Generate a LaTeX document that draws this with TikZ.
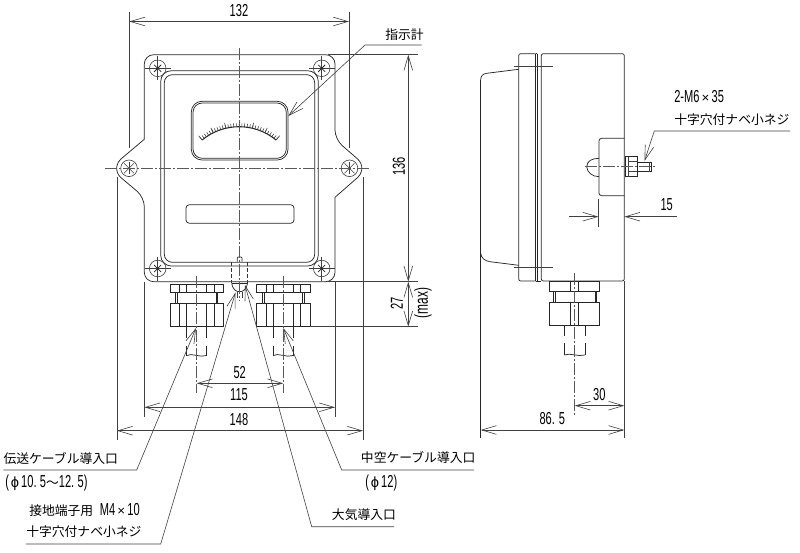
\documentclass[tikz,border=0pt]{standalone}
\usepackage{fontspec}
\usetikzlibrary{arrows.meta}
\newfontfamily\cjk{Noto Sans CJK JP}
\newfontfamily\narrowfont[FakeStretch=0.64]{Liberation Sans}
\newfontfamily\plainfont{Liberation Sans}
\newcommand{\nar}[1]{{\narrowfont\fontsize{13}{14}\selectfont #1}}
\newcommand{\tms}{{\plainfont\fontsize{10}{12}\selectfont\texttimes}}
\newcommand{\dia}{{\plainfont\fontsize{11}{12}\selectfont ϕ}}
\tikzset{
  outline/.style={line width=0.55pt,color=black!85},
  thinline/.style={line width=0.45pt,color=black!75},
  centerline/.style={line width=0.4pt,color=black!65,dash pattern={on 9pt off 1.5pt on 1.5pt off 1.5pt}},
  hidden/.style={line width=0.45pt,color=black!80,dash pattern={on 3pt off 1.5pt}},
  dimline/.style={thinline,{Straight Barb[length=11pt,width=6.5pt]}-{Straight Barb[length=11pt,width=6.5pt]}},
  leader/.style={thinline,-{Straight Barb[length=11pt,width=6.5pt]}},
  numlabel/.style={font=\narrowfont\fontsize{13}{14}\selectfont,inner sep=0pt},
  jplabel/.style={font=\cjk\fontsize{9.6}{12}\selectfont,inner sep=0pt,anchor=west},
}
\begin{document}
\begin{tikzpicture}[x=0.75pt,y=0.75pt,yscale=-1,xscale=1]
\useasboundingbox (0,0) rectangle (800,553);

%Case with ears
\draw [outline] (144.3,139.3) [rounded corners=7pt] -- (144.3,54.7) -- (335,54.7) -- (335,139.3) [sharp corners] -- (357.5,158.9) arc [start angle=-49.6,end angle=49.6,radius=12.3] -- (335,197.3) [rounded corners=7pt] -- (335,281.7) -- (144.3,281.7) -- (144.3,197.3) [sharp corners] -- (121,177.7) arc [start angle=130.4,end angle=229.6,radius=12.3] -- cycle;
%Cover
\draw [outline,rounded corners=8pt] (160.7,70.7) rectangle (318.3,266);
\draw [outline,rounded corners=6pt] (164.3,74.7) rectangle (314.7,262.3);
%Window
\draw [outline,rounded corners=8pt] (191.3,101.3) rectangle (288,160);
\draw [outline,rounded corners=7pt] (193,103) rectangle (286.3,158.3);
\draw [outline,rounded corners=2.5pt] (186,204.7) rectangle (294,223.3);
%Scale
\draw [outline,line width=0.8pt] (239.1,184.7) ++(-129.6:58) arc [start angle=-129.6,end angle=-50.4,radius=58];
\foreach \a in {0,...,30} \draw [thinline] (239.1,184.7) ++({-129.6+2.64*\a}:58) -- ++({-129.6+2.64*\a}:3.5);
\foreach \a in {0,...,6} \draw [thinline] (239.1,184.7) ++({-129.6+13.2*\a}:58) -- ++({-129.6+13.2*\a}:5.5);

%Corner screws
\foreach \sx/\sy in {157.7/68.3,321.7/68.3,157.7/268.5,321.7/268.5} {
  \draw [thinline] (\sx,\sy) circle [radius=8.3];
  \draw [thinline] (\sx-13,\sy) -- (\sx+13,\sy);
  \draw [thinline] (\sx,\sy-12) -- (\sx,\sy+12);
  \draw [outline] (\sx-3.5,\sy-3.5) -- (\sx+3.5,\sy+3.5);
  \draw [outline] (\sx-3.5,\sy+3.5) -- (\sx+3.5,\sy-3.5);
}
%Ear screws
\foreach \sx in {129,349.5} {
  \draw [thinline] (\sx,168.3) circle [radius=8.3];
  \draw [thinline] (\sx-5,163.3) -- (\sx+5,173.3);
  \draw [thinline] (\sx-5,173.3) -- (\sx+5,163.3);
  \draw [thinline] (\sx,162.3) -- (\sx,174.3);
}

%Earth screw
\draw [outline] (237.3,261.7) -- (237.3,258) .. controls (237.3,256.5) and (242,256.5) .. (242,258) -- (242,261.7);
\draw [hidden] (231.7,262) -- (231.7,283);
\draw [hidden] (247.5,262) -- (247.5,283);
\draw [outline,line width=0.9pt] (231.7,283.5) -- (247.5,283.5);
\draw [outline] (231.7,283.5) .. controls (232.5,289) and (236,291.8) .. (239.6,291.8) .. controls (243,291.8) and (246.8,289) .. (247.5,283.5);
\draw [thinline] (236.8,292) -- (236.8,298);
\draw [thinline] (242.6,292) -- (242.6,298);

%Cable glands
\foreach \gx in {196.7,283.3} {
\begin{scope}[shift={(\gx,0)}]
\draw [outline] (-26.6,284) rectangle (26.6,292.7);
\draw [outline] (-26.6,303.3) rectangle (26.6,326.3);
\foreach \hx in {-17.3,-10,10,17.3} \draw [outline] (\hx,284) -- (\hx,292.7) (\hx,303.3) -- (\hx,326.3);
\draw [outline] (-21,292.7) -- (-21,303.3) (-19.4,292.7) -- (-19.4,303.3) (19.4,292.7) -- (19.4,303.3) (21,292.7) -- (21,303.3);
\draw [outline] (-10,326.3) -- (-10,338) (-10,346) -- (-10,355.5) (10,326.3) -- (10,338) (10,346) -- (10,355.5);
\draw [outline] (-10,355.5) .. controls (-5,352.5) and (3,358) .. (10,355.5);
\end{scope}
}

%Side view body
\draw [outline] (480.7,80) .. controls (480.7,76) and (482.5,74) .. (486.7,73.3) -- (518.7,69.3);
\draw [outline] (480.7,80) -- (480.7,438);
\draw [outline] (480.7,253.3) .. controls (481,258) and (485,261) .. (490,261.7) -- (518.7,265.3);
\draw [outline,rounded corners=1.5pt] (535.7,53.7) -- (518.7,53.7) -- (518.7,281) -- (535.7,281);
\draw [outline] (535.7,53.7) -- (535.7,281) (537.3,53.7) -- (537.3,281);
\draw [outline,rounded corners=1.5pt] (541.3,281) -- (541.3,53.7) -- (624.3,53.7) -- (624.3,281) -- cycle;
\draw [outline] (535.7,281) -- (541.3,281) (535.7,53.7) -- (537.3,53.7);
\draw [thinline] (514.3,66.7) -- (552.7,66.7);
\draw [thinline] (514.3,267) -- (552.7,267);
%Side view screw
\draw [outline,rounded corners=2pt] (624.3,138.3) -- (599,138.3) -- (599,195.7) -- (624.3,195.7);
\draw [outline] (599,158.3) .. controls (592,158.3) and (587,161) .. (586.7,166.7) .. controls (587,172) and (592,176.7) .. (599,176.7);
\draw [outline] (625,156.7) rectangle (637.7,176.7);
\draw [thinline] (628,156.7) -- (628,176.7) (628,161.7) -- (637.7,161.7) (628,171.7) -- (637.7,171.7);
\draw [outline] (637.7,162.3) rectangle (651,171.7);
\draw [thinline] (649,162.3) -- (649,171.7);
\draw [centerline] (585,166.7) -- (657,166.7);
%Side view gland
\draw [outline] (549.3,281.7) rectangle (599.7,291.7);
\draw [outline] (549.3,302.7) rectangle (599.7,325.7);
\draw [outline] (553.3,291.7) -- (553.3,302.7) (555,291.7) -- (555,302.7) (595,291.7) -- (595,302.7) (596.7,291.7) -- (596.7,302.7);
\draw [outline] (570.7,281.7) -- (570.7,291.7) (578.3,281.7) -- (578.3,291.7) (570.7,302.7) -- (570.7,325.7) (578.3,302.7) -- (578.3,325.7);
\draw [outline] (564.3,325.7) -- (564.3,336) (564.3,343) -- (564.3,355) (585,325.7) -- (585,336) (585,343) -- (585,355);
\draw [outline] (564.3,355) .. controls (570,352.5) and (578,357) .. (585,355);

%Center lines
\draw [centerline] (239,47.7) -- (239,300);
\draw [centerline] (105,168.3) -- (371,168.3);
\draw [centerline] (196.7,276) -- (196.7,393);
\draw [centerline] (283.3,276) -- (283.3,393);
\draw [centerline] (574.7,273) -- (574.7,415);

%Extension lines
\draw [thinline] (129.3,12) -- (129.3,148);
\draw [thinline] (349,12) -- (349,148);
\draw [thinline] (116.9,177) -- (116.9,440);
\draw [thinline] (363,177) -- (363,440);
\draw [thinline] (144.3,282) -- (144.3,416.7);
\draw [thinline] (335,282) -- (335,416.7);
\draw [thinline] (624.3,281) -- (624.3,438);
\draw [thinline] (598.5,199.3) -- (598.5,226.7);
\draw [thinline] (328,54.7) -- (418,54.7);
\draw [thinline] (328,281.7) -- (418,281.7);
\draw [thinline] (310,326.7) -- (418,326.7);

%Dimensions
\draw [dimline] (129.3,21.5) -- (349,21.5);
\draw [dimline] (408.3,54.7) -- (408.3,281.7);
\draw [dimline] (408.3,281.7) -- (408.3,326.7);
\draw [dimline] (196.7,383.3) -- (283.3,383.3);
\draw [dimline] (144.3,407.3) -- (335,407.3);
\draw [dimline] (116.9,430.7) -- (363,430.7);
\draw [dimline] (574.7,405.7) -- (624.3,405.7);
\draw [dimline] (480.7,430) -- (624.3,430);
\draw [thinline,-{Straight Barb[length=11pt,width=6.5pt]}] (569.3,216.7) -- (598.5,216.7);
\draw [thinline,-{Straight Barb[length=11pt,width=6.5pt]}] (676.7,216.7) -- (624.3,216.7);

% Text Node
\node (dimWidth) [numlabel] at (239,10.7) {132};
\node (dimHeight) [numlabel,rotate=90] at (399,166.7) {136};
\node (dimGland) [numlabel,rotate=90] at (396.7,303) {27};
\node (dimMax) [rotate=90,inner sep=0pt] at (423,303) {\narrowfont\fontsize{14}{14}\selectfont (max)};
\node (dimPitch) [numlabel] at (239.7,372.7) {52};
\node (dimMount) [numlabel] at (239,395) {115};
\node (dimTotal) [numlabel] at (239,420) {148};
\node (dimStud) [numlabel] at (666.7,205) {15};
\node (dimOffset) [numlabel] at (599.3,394.3) {30};
\node (dimDepth) [numlabel] at (552.3,419) {86.\hspace{3pt}5};

\node (lblMeter) [jplabel] at (385,34.3) {指示計};
\node (lblBolt) [jplabel] at (674,96.7) {\nar{2-M6}\,\tms\,\nar{35}};
\node (lblBoltJp) [jplabel] at (674,119.3) {十字穴付ナベ小ネジ};
\node (lblSignal) [jplabel] at (3.3,459) {伝送ケーブル導入口};
\node (lblSignalDia) [jplabel] at (5,483.3) {\nar{(}\hspace{1.5pt}\dia\hspace{1.5pt}\nar{10.\hspace{2.5pt}5}〜\nar{12.\hspace{2.5pt}5)}};
\node (lblEarth) [jplabel,anchor=east] at (140,510) {接地端子用\hspace{5pt}\nar{M4}\,\tms\,\nar{10}};
\node (lblEarthJp) [jplabel] at (26,531.7) {十字穴付ナベ小ネジ};
\node (lblHollow) [jplabel] at (360.7,457.7) {中空ケーブル導入口};
\node (lblHollowDia) [jplabel] at (365,483.3) {\nar{(}\hspace{1.5pt}\dia\hspace{1.5pt}\nar{12)}};
\node (lblAir) [jplabel] at (331.7,514.3) {大気導入口};

%Leaders
\coordinate (tipMeter) at (288.3,116);
\coordinate (tipBolt) at (644.5,161);
\coordinate (tipSignal) at (196,328);
\coordinate (tipEarth) at (235.5,292.5);
\coordinate (tipHollow) at (283.3,328);
\coordinate (tipAir) at (245,285);
\draw [leader] (421.7,45) -- (365,45) -- (tipMeter);
\draw [leader] (790,131) -- (654.3,131) -- (tipBolt);
\draw [leader] (3.3,470) -- (136.7,470) -- (tipSignal);
\draw [leader] (26,544) -- (160.7,544) -- (tipEarth);
\draw [leader] (474,470) -- (341.7,470) -- (tipHollow);
\draw [leader] (394,526.7) -- (311.7,526.7) -- (tipAir);
\end{tikzpicture}
\end{document}
